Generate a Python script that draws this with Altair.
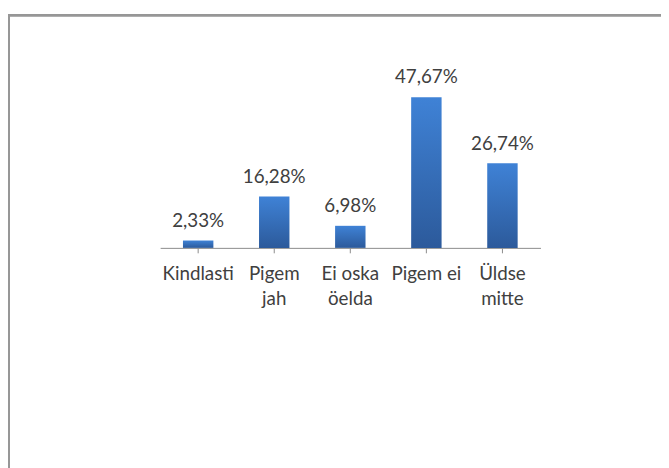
import altair as alt
import pandas as pd

categories = ["Kindlasti", "Pigem\njah", "Ei oska\nöelda", "Pigem ei", "Üldse\nmitte"]
values = [2.33, 16.28, 6.98, 47.67, 26.74]

df = pd.DataFrame({"cat": categories, "v": values})

FONT = "Lato"
TXT = "#404040"

x = alt.X("cat:N", sort=None,
          scale=alt.Scale(paddingInner=0.6, paddingOuter=0.3),
          axis=alt.Axis(title=None, labelAngle=0, labelExpr="split(datum.label, '\\n')",
                        domainColor="#8a8a8a", tickColor="#8a8a8a", tickSize=5,
                        labelColor=TXT, labelFont=FONT, labelFontSize=19,
                        labelPadding=12, labelLineHeight=25, labelBaseline="top"))
y = alt.Y("v:Q", scale=alt.Scale(domain=[0, 50]), axis=None)

grad = alt.Gradient(gradient="linear", x1=0, y1=0, x2=0, y2=1,
                    stops=[alt.GradientStop(color="#3f82d6", offset=0),
                           alt.GradientStop(color="#2c5a9b", offset=1)])

bars = alt.Chart(df).mark_bar(color=grad).encode(x=x, y=y)

labels = alt.Chart(df).transform_calculate(
    lab="replace(format(datum.v, '.2f'), '.', ',') + '%'"
).mark_text(dy=-14, baseline="alphabetic", font=FONT, fontSize=19, color=TXT).encode(
    x=alt.X("cat:N", sort=None), y=y, text="lab:N")

frame = alt.Chart(df).mark_rect(fill=None, stroke="#979797", strokeWidth=2).encode(
    x=alt.value(-153), x2=alt.value(600), y=alt.value(-75.5), y2=alt.value(450))

chart = alt.layer(frame, bars, labels).properties(
    width=385, height=160,
    autosize=alt.AutoSizeParams(type="none"),
    padding={"left": 154, "top": 80, "right": 122, "bottom": 220},
    background="white",
).configure_view(strokeWidth=0, stroke=None)

chart.save("out.html", embed_options={"renderer": "svg", "actions": False})
